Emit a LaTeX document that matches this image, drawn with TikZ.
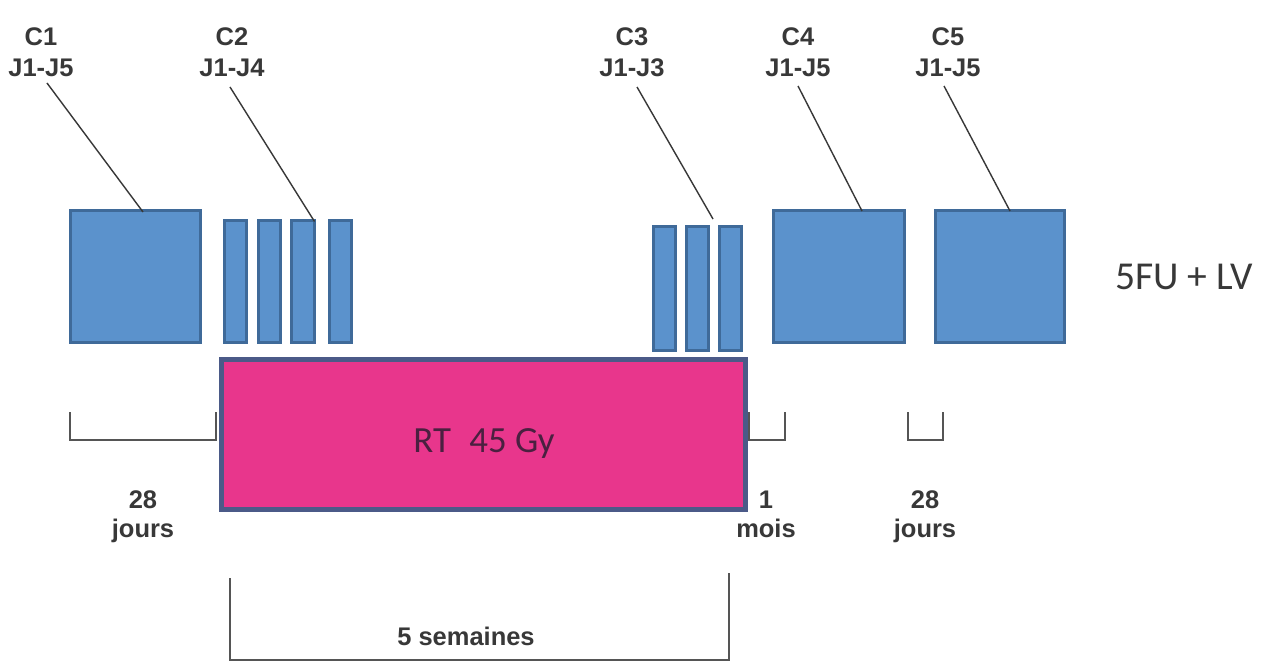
\documentclass[tikz,border=0pt]{standalone}
\usepackage{fontspec}
\setmainfont{Liberation Sans}
\newfontfamily\carl{Carlito}
\usetikzlibrary{calc}
\definecolor{bfill}{HTML}{5B92CC}
\definecolor{bdraw}{HTML}{3F6A99}
\definecolor{pfill}{HTML}{E8368C}
\definecolor{pdraw}{HTML}{4B5A88}
\definecolor{lblgray}{HTML}{383838}
\definecolor{brgray}{HTML}{555555}
\definecolor{rttext}{HTML}{4A2040}
\tikzset{
  bluebox/.style={draw=bdraw, fill=bfill, line width=1.7pt, inner sep=0pt, outer sep=0pt},
  rtbox/.style={draw=pdraw, fill=pfill, line width=2.8pt, inner sep=0pt, outer sep=0pt},
  lbl/.style={font=\bfseries\fontsize{14.5}{17}\selectfont, text=lblgray, inner sep=0pt, anchor=base},
  leader/.style={draw=lblgray, line width=0.8pt},
  bracket/.style={draw=brgray, line width=1.1pt},
}
\begin{document}
\begin{tikzpicture}[x=0.02cm,y=-0.02cm]
\useasboundingbox[fill=white] (0,0) rectangle (1271,662);

% labels on top
\node[lbl] (c1a) at (41,46) {C1};
\node[lbl] (c1b) at (41,77) {J1-J5};
\node[lbl] (c2a) at (232,46) {C2};
\node[lbl] (c2b) at (232,77) {J1-J4};
\node[lbl] (c3a) at (632,46) {C3};
\node[lbl] (c3b) at (632,77) {J1-J3};
\node[lbl] (c4a) at (798,46) {C4};
\node[lbl] (c4b) at (798,77) {J1-J5};
\node[lbl] (c5a) at (948,46) {C5};
\node[lbl] (c5b) at (948,77) {J1-J5};

% chemo boxes
\node[bluebox, minimum width=2.6cm, minimum height=2.64cm] (c1box) at (135.5,276.5) {};
\node[bluebox, minimum width=0.44cm, minimum height=2.44cm] (c2b1) at (235.5,281.5) {};
\node[bluebox, minimum width=0.44cm, minimum height=2.44cm] (c2b2) at (269.5,281.5) {};
\node[bluebox, minimum width=0.46cm, minimum height=2.44cm] (c2b3) at (303,281.5) {};
\node[bluebox, minimum width=0.44cm, minimum height=2.44cm] (c2b4) at (340.5,281.5) {};
\node[bluebox, minimum width=0.44cm, minimum height=2.48cm] (c3b1) at (664.5,288.5) {};
\node[bluebox, minimum width=0.44cm, minimum height=2.48cm] (c3b2) at (697.5,288.5) {};
\node[bluebox, minimum width=0.44cm, minimum height=2.48cm] (c3b3) at (730.5,288.5) {};
\node[bluebox, minimum width=2.62cm, minimum height=2.64cm] (c4box) at (839,276.5) {};
\node[bluebox, minimum width=2.58cm, minimum height=2.64cm] (c5box) at (1000,276.5) {};

% leader lines
\coordinate (s1) at (47,83);
\coordinate (s2) at (230,87);
\coordinate (s3) at (637,87);
\coordinate (s4) at (798,86);
\coordinate (s5) at (944,86);
\coordinate (e3) at (713,219);
\draw[leader] (s1) -- ($(c1box.north)+(7.5,1.5)$);
\draw[leader] (s2) -- ($(c2b3.north east)+(0,1)$);
\draw[leader] (s3) -- (e3);
\draw[leader] (s4) -- ($(c4box.north)+(23,0.5)$);
\draw[leader] (s5) -- ($(c5box.north)+(10,0.5)$);

% brackets
\draw[bracket] (70,412) -- (70,440) -- (216,440) -- (216,412);
\draw[bracket] (749,412) -- (749,440) -- (785,440) -- (785,412);
\draw[bracket] (908,412) -- (908,440) -- (943,440) -- (943,412);
\draw[bracket] (230,578) -- (230,660) -- (729,660) -- (729,573);

% RT box
\node[rtbox, minimum width=10.48cm, minimum height=3cm] (rt) at (483.5,434.5) {};
\node[font=\carl\fontsize{21}{24}\selectfont, text=rttext, inner sep=0pt, anchor=base west] (rtt) at (413,452) {RT\hspace{10.5pt}45 Gy};

% right label
\node[font=\carl\fontsize{22.5}{26}\selectfont, text=lblgray, inner sep=0pt, anchor=base west] (fu) at (1115,290) {5FU + LV};

% bottom labels
\node[lbl] (d1a) at (143,508) {28};
\node[lbl] (d1b) at (143,537) {jours};
\node[lbl] (d2a) at (766,508) {1};
\node[lbl] (d2b) at (766,537) {mois};
\node[lbl] (d3a) at (925,508) {28};
\node[lbl] (d3b) at (925,537) {jours};
\node[lbl] (d4) at (466,645) {5 semaines};
\end{tikzpicture}
\end{document}
